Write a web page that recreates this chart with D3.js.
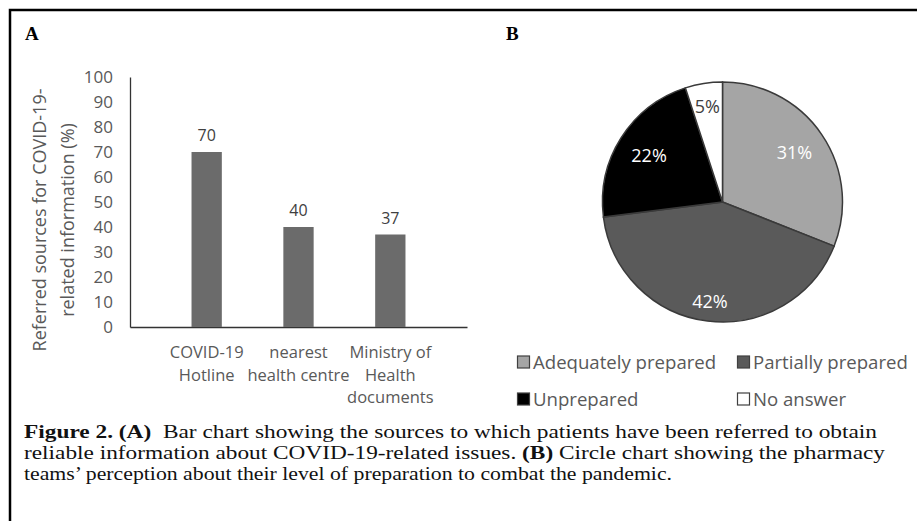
<!DOCTYPE html>
<html>
<head>
<meta charset="utf-8">
<script src="https://cdn.jsdelivr.net/npm/d3@7"></script>
<style>
  body { margin: 0; background: #fff; }
  svg { display: block; }
</style>
</head>
<body>
<div id="chart"></div>
<script>
// Panel A data
const sources = ["COVID-19 Hotline", "nearest health centre", "Ministry of Health documents"];
const sourceLines = [["COVID-19", "Hotline"], ["nearest", "health centre"], ["Ministry of", "Health", "documents"]];
const sourceValues = [70, 40, 37];

// Panel B data
const prepCategories = ["Adequately prepared", "Partially prepared", "Unprepared", "No answer"];
const prepValues = [31, 42, 22, 5];
const prepColors = ["#a5a5a5", "#5a5a5a", "#000000", "#ffffff"];
const prepLabelColors = ["#ffffff", "#ffffff", "#ffffff", "#404040"];
const prepLabelRadius = [87, 100, 87, 97];

const width = 917, height = 521;
const sans = "'Open Sans', sans-serif";
const serif = "'Liberation Serif', serif";

const svg = d3.select("#chart").append("svg")
  .attr("width", width)
  .attr("height", height);

// frame (left and top only)
svg.append("path")
  .attr("d", `M10,${height} L10,10 L${width},10`)
  .attr("fill", "none")
  .attr("stroke", "#000")
  .attr("stroke-width", 2.5);

svg.append("text").attr("x", 25).attr("y", 40)
  .style("font-family", serif).style("font-weight", "bold").style("font-size", "19px")
  .text("A");
svg.append("text").attr("x", 506).attr("y", 40)
  .style("font-family", serif).style("font-weight", "bold").style("font-size", "19px")
  .text("B");

// ---- Bar chart ----
const x = d3.scaleBand()
  .domain(sources)
  .range([130, 467])
  .padding(0.67);

const y = d3.scaleLinear()
  .domain([0, 100])
  .range([327, 77]);

const yAxis = svg.append("g")
  .attr("transform", "translate(130,0)")
  .call(d3.axisLeft(y).ticks(10).tickSize(0).tickPadding(17));
yAxis.select(".domain").attr("stroke", "#333").attr("stroke-width", 1.3);
yAxis.selectAll("text")
  .style("font-family", sans).style("font-size", "17px").attr("fill", "#595959");

const xAxis = svg.append("g")
  .attr("transform", "translate(0,327)")
  .call(d3.axisBottom(x).tickSize(0).tickFormat(""));
xAxis.select(".domain").attr("stroke", "#333").attr("stroke-width", 1.3);

svg.append("g")
  .selectAll("rect")
  .data(sources)
  .join("rect")
  .attr("x", d => x(d))
  .attr("y", (d, i) => y(sourceValues[i]))
  .attr("width", x.bandwidth())
  .attr("height", (d, i) => y(0) - y(sourceValues[i]))
  .attr("fill", "#6b6b6b");

svg.append("g")
  .selectAll("text")
  .data(sources)
  .join("text")
  .attr("x", d => x(d) + x.bandwidth() / 2)
  .attr("y", (d, i) => y(sourceValues[i]) - 11)
  .attr("text-anchor", "middle")
  .style("font-family", sans).style("font-size", "16px").attr("fill", "#404040")
  .text((d, i) => sourceValues[i]);

// category labels
const catLabels = svg.append("g")
  .selectAll("text")
  .data(sources)
  .join("text")
  .attr("text-anchor", "middle")
  .style("font-family", sans).style("font-size", "16.5px").attr("fill", "#595959");
catLabels.each(function (d, i) {
  d3.select(this).selectAll("tspan")
    .data(sourceLines[i])
    .join("tspan")
    .attr("x", x(d) + x.bandwidth() / 2)
    .attr("y", (l, j) => 358 + j * 22.5)
    .text(l => l);
});

// y title
const yTitle = svg.append("text")
  .attr("transform", "translate(0,220) rotate(-90)")
  .attr("text-anchor", "middle")
  .style("font-family", sans).style("font-size", "18px").attr("fill", "#595959");
yTitle.append("tspan").attr("x", 0).attr("y", 46).text("Referred sources for COVID-19-");
yTitle.append("tspan").attr("x", 0).attr("y", 74).text("related information (%)");

// ---- Pie chart ----
const cx = 722.5, cy = 202, radius = 120;
const pie = d3.pie().sort(null).value(d => d);
const arcs = pie(prepValues);
const arc = d3.arc().innerRadius(0).outerRadius(radius);

const pieG = svg.append("g").attr("transform", `translate(${cx},${cy})`);
pieG.selectAll("path")
  .data(arcs)
  .join("path")
  .attr("d", arc)
  .attr("fill", (d, i) => prepColors[i])
  .attr("stroke", "#3a3a3a")
  .attr("stroke-width", 1.5);

pieG.selectAll("text")
  .data(arcs)
  .join("text")
  .attr("transform", (d, i) => {
    const a = (d.startAngle + d.endAngle) / 2;
    const r = prepLabelRadius[i];
    return `translate(${Math.sin(a) * r},${-Math.cos(a) * r})`;
  })
  .attr("text-anchor", "middle")
  .attr("dy", "0.35em")
  .style("font-family", sans).style("font-size", "18px")
  .attr("fill", (d, i) => prepLabelColors[i])
  .text((d, i) => prepValues[i] + "%");

// legend
const legendX = [517, 737], legendY = [362, 399];
const legend = svg.append("g")
  .selectAll("g")
  .data(prepCategories)
  .join("g")
  .attr("transform", (d, i) => `translate(${legendX[i % 2]},${legendY[Math.floor(i / 2)]})`);
legend.append("rect")
  .attr("x", 0.5).attr("y", -6)
  .attr("width", 12).attr("height", 12)
  .attr("fill", (d, i) => prepColors[i])
  .attr("stroke", "#404040").attr("stroke-width", 1.2);
legend.append("text")
  .attr("x", 16).attr("dy", "0.35em")
  .style("font-family", sans).style("font-size", "18.6px").attr("fill", "#595959")
  .text(d => d);

// ---- Caption ----
const captionLines = [
  [["Figure 2. (A)", true], ["  Bar chart showing the sources to which patients have been referred to obtain", false]],
  [["reliable information about COVID-19-related issues. ", false], ["(B)", true], [" Circle chart showing the pharmacy", false]],
  [["teams\u2019 perception about their level of preparation to combat the pandemic.", false]]
];
const captionWidth = [853, 861, 648];
svg.append("g")
  .selectAll("text")
  .data(captionLines)
  .join("text")
  .attr("x", 24)
  .attr("y", (d, i) => 438 + i * 21)
  .attr("textLength", (d, i) => captionWidth[i])
  .attr("lengthAdjust", "spacingAndGlyphs")
  .style("font-family", serif).style("font-size", "18.5px").attr("fill", "#111")
  .style("white-space", "pre")
  .selectAll("tspan")
  .data(d => d)
  .join("tspan")
  .style("font-weight", d => d[1] ? "bold" : "normal")
  .text(d => d[0]);
</script>
</body>
</html>
